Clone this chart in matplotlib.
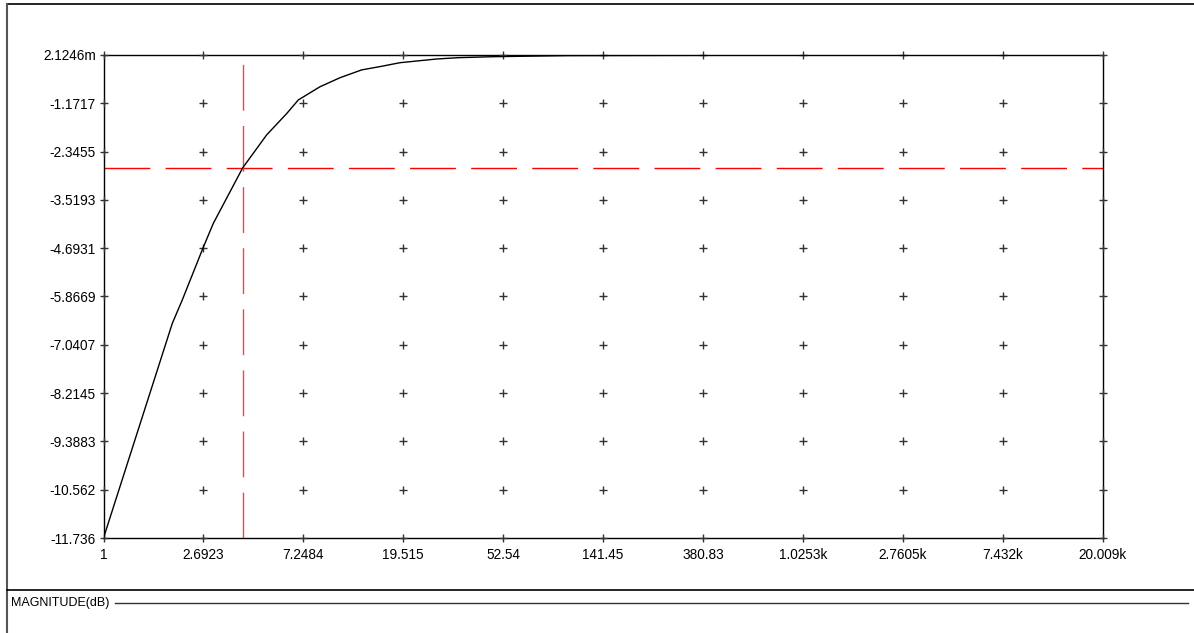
import matplotlib
matplotlib.use("Agg")
import matplotlib.pyplot as plt
from matplotlib.lines import Line2D
import numpy as np

plt.rcParams['font.family'] = ['Liberation Sans', 'DejaVu Sans']

# frequency response (Hz, dB)
freq = [1, 1.978, 2.184, 2.69, 2.97, 3.975, 5.04, 6.15, 6.90, 8.55, 10.43,
        12.93, 15.5, 18.9, 27.2, 33.7, 47.7, 100, 1000, 10770]
mag = [-11.736, -6.52, -5.95, -4.67, -4.09, -2.74, -1.94, -1.42, -1.09, -0.77,
       -0.55, -0.36, -0.28, -0.185, -0.095, -0.063, -0.039, -0.012, -0.002, 0.0]

# cursor
cursor_x = 3.975
cursor_y = -2.737

x_ticks = [1, 2.6923, 7.2484, 19.515, 52.54, 141.45, 380.83, 1025.3, 2760.5, 7432, 20009]
x_labels = ["1", "2.6923", "7.2484", "19.515", "52.54", "141.45", "380.83",
            "1.0253k", "2.7605k", "7.432k", "20.009k"]
y_ticks = [0.0021246, -1.1717, -2.3455, -3.5193, -4.6931, -5.8669, -7.0407,
           -8.2145, -9.3883, -10.562, -11.736]
y_labels = ["2.1246m", "-1.1717", "-2.3455", "-3.5193", "-4.6931", "-5.8669",
            "-7.0407", "-8.2145", "-9.3883", "-10.562", "-11.736"]
legend_label = "MAGNITUDE(dB)"

W, H = 1194, 633
fig = plt.figure(figsize=(W / 100, H / 100), dpi=100)
ax = fig.add_axes([103.5 / W, 1 - 538 / H, 999 / W, 483 / H])

ax.set_xscale("log")
ax.set_xlim(x_ticks[0], x_ticks[-1])
ax.set_ylim(y_ticks[-1], y_ticks[0])

# grid crosses
gx, gy = np.meshgrid(x_ticks, y_ticks)
ax.plot(gx.ravel(), gy.ravel(), linestyle="none", marker="+", ms=6, mew=1,
        color="#333333", clip_on=False, zorder=3)

# cursor lines
ax.axhline(cursor_y, color="red", lw=1, dashes=(33, 11), zorder=2)
ax.plot([cursor_x, cursor_x], [y_ticks[-1], y_ticks[0]], color="#ff4040", lw=1,
        dashes=(33, 11), zorder=2)

ax.plot(freq, mag, color="black", lw=1, zorder=4)

ax.set_xticks(x_ticks)
ax.set_xticklabels(x_labels)
ax.set_yticks(y_ticks)
ax.set_yticklabels(y_labels)
ax.minorticks_off()
ax.tick_params(axis="x", length=0, pad=7, labelsize=9.8)
ax.tick_params(axis="y", length=0, pad=5.5, labelsize=9.8)
for s in ax.spines.values():
    s.set_linewidth(1)
    s.set_color("black")

# frame around the window
def fline(x0, y0, x1, y1, c="black", lw=1.2):
    fig.add_artist(Line2D([x0 / W, x1 / W], [1 - y0 / H, 1 - y1 / H],
                          transform=fig.transFigure, color=c, lw=lw))

fline(7, 4, W, 4)
fline(7, 4, 7, H, c="#555555", lw=1.5)
fline(7, 590, W, 590)
fline(115, 603, 1188, 603, c="#333333", lw=1)
fig.text(11 / W, 1 - 603 / H, legend_label, fontsize=9, va="center", ha="left")

fig.savefig("out.png", dpi=100)
